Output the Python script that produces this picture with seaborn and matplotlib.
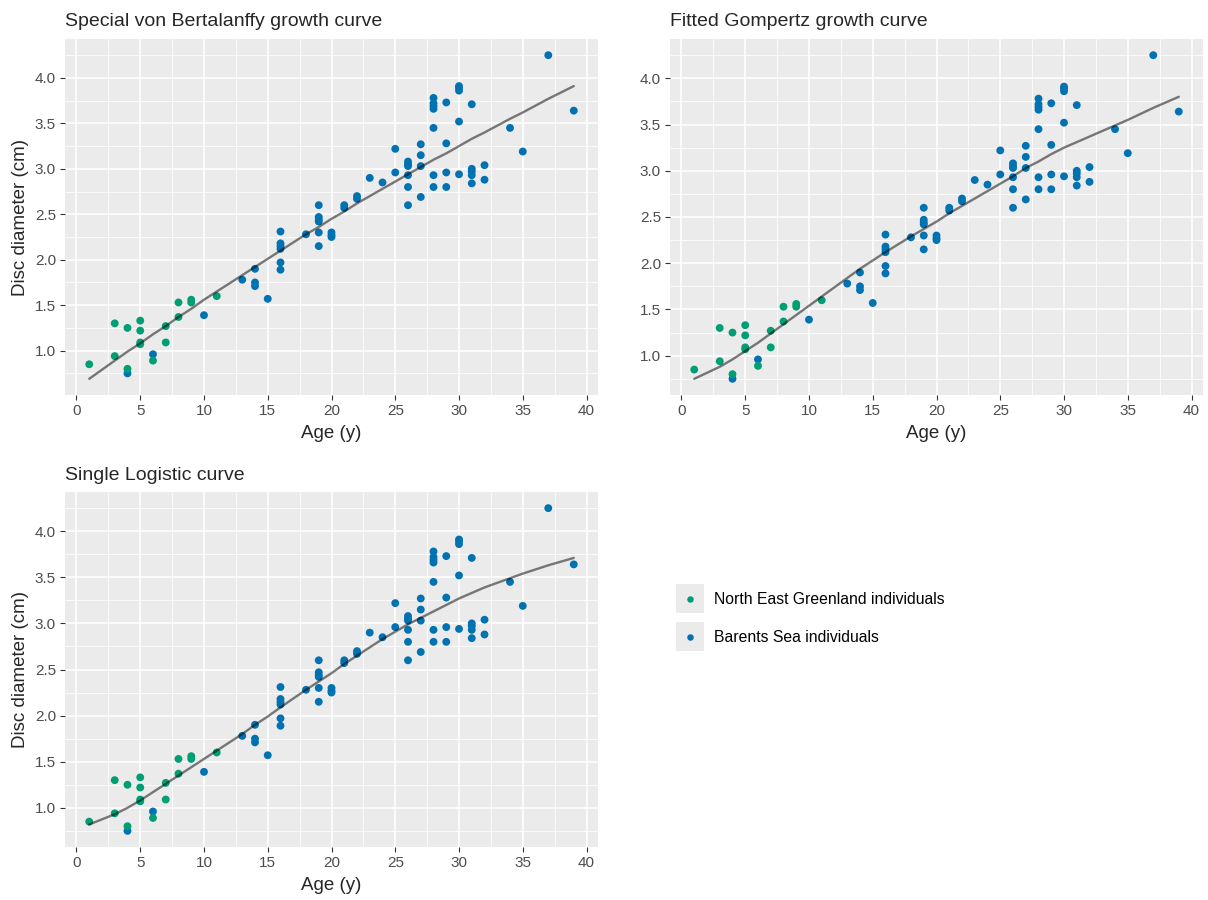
import pandas as pd
import seaborn as sns
import matplotlib.pyplot as plt
from matplotlib.patches import Rectangle
from matplotlib.ticker import MultipleLocator

# Pontos observados - North East Greenland
greenland_age = [1, 3, 3, 4, 4, 5, 5, 5, 5, 6, 7, 7, 8, 8, 9, 9, 11]
greenland_disc = [0.85, 1.30, 0.94, 1.25, 0.80, 1.33, 1.22, 1.09, 1.07, 0.89,
                  1.27, 1.09, 1.53, 1.37, 1.56, 1.53, 1.60]

# Pontos observados - Barents Sea
barents_age = [4, 6, 10, 13, 14, 14, 14, 15, 16, 16, 16, 16, 16, 16, 18,
               19, 19, 19, 19, 19, 19, 20, 20, 20, 21, 21, 22, 22, 23, 24,
               25, 25, 26, 26, 26, 26, 26, 26, 27, 27, 27, 27,
               28, 28, 28, 28, 28, 28, 28, 29, 29, 29, 29,
               30, 30, 30, 30, 30, 31, 31, 31, 31, 31, 32, 32, 34, 35, 37, 39]
barents_disc = [0.75, 0.96, 1.39, 1.78, 1.90, 1.75, 1.71, 1.57, 2.31, 2.18, 2.15, 2.12, 1.97, 1.89, 2.28,
                2.60, 2.47, 2.44, 2.42, 2.30, 2.15, 2.30, 2.27, 2.25, 2.60, 2.57, 2.70, 2.67, 2.90, 2.85,
                3.22, 2.96, 3.08, 3.05, 3.03, 2.93, 2.80, 2.60, 3.27, 3.15, 3.03, 2.69,
                3.78, 3.72, 3.69, 3.66, 3.45, 2.93, 2.80, 3.73, 3.28, 2.96, 2.80,
                3.91, 3.89, 3.86, 3.52, 2.94, 3.71, 3.00, 2.97, 2.93, 2.84, 3.04, 2.88, 3.45, 3.19, 4.25, 3.64]

curve_age = [1, 3, 4, 5, 6, 7, 8, 9, 10, 11, 13, 14, 15, 16, 18, 19, 20,
             21, 22, 23, 24, 25, 26, 27, 28, 29, 30, 31, 32, 34, 35, 37, 39]
vb_fit = [0.69, 0.89, 0.99, 1.08, 1.18, 1.27, 1.37, 1.46, 1.56, 1.65, 1.83, 1.92, 2.01, 2.10, 2.28, 2.36, 2.45,
          2.53, 2.62, 2.70, 2.78, 2.86, 2.94, 3.02, 3.10, 3.17, 3.25, 3.33, 3.40, 3.55, 3.62, 3.77, 3.91]
gompertz_fit = [0.75, 0.88, 0.96, 1.05, 1.14, 1.24, 1.34, 1.44, 1.54, 1.64, 1.84, 1.94, 2.03, 2.12, 2.29, 2.37, 2.45,
                2.54, 2.62, 2.70, 2.78, 2.86, 2.94, 3.03, 3.10, 3.18, 3.25, 3.31, 3.37, 3.49, 3.55, 3.68, 3.80]
logistic_fit = [0.82, 0.93, 1.00, 1.08, 1.17, 1.26, 1.35, 1.44, 1.53, 1.62, 1.80, 1.90, 1.99, 2.09, 2.28, 2.37, 2.46,
                2.56, 2.65, 2.74, 2.83, 2.91, 2.99, 3.06, 3.13, 3.20, 3.27, 3.33, 3.39, 3.49, 3.54, 3.63, 3.71]

panel_titles = ['Special von Bertalanffy growth curve',
                'Fitted Gompertz growth curve',
                'Single Logistic curve']
legend_labels = ['North East Greenland individuals', 'Barents Sea individuals']
group_colors = ['#009E73', '#0072B2']

W, H = 1208, 900


def px_box(left, top, right, bottom):
    # converte uma caixa em pixels para coordenadas da figura
    return [left / W, 1 - bottom / H, (right - left) / W, (bottom - top) / H]


def draw_panel(ax, df, fit, title, show_ylabel=True):
    fit_df = pd.DataFrame({'age': curve_age, 'fit': fit})

    # Barents primeiro, Groenlandia por cima (como no original)
    sns.scatterplot(data=df, x='age', y='disc', hue='group',
                    hue_order=legend_labels[::-1],
                    palette=dict(zip(legend_labels, group_colors)),
                    s=32, linewidth=0, legend=False, ax=ax, zorder=3)
    sns.lineplot(data=fit_df, x='age', y='fit', color='black', alpha=0.5,
                 linewidth=1.7, ax=ax, zorder=4)

    lo = min(df['disc'].min(), min(fit))
    hi = max(df['disc'].max(), max(fit))
    pad = (hi - lo) * 0.05
    ax.set_ylim(lo - pad, hi + pad)
    ax.set_xlim(1 - 1.9, 39 + 1.9)

    ax.xaxis.set_major_locator(MultipleLocator(5))
    ax.xaxis.set_minor_locator(MultipleLocator(2.5))
    ax.yaxis.set_major_locator(MultipleLocator(0.5))
    ax.yaxis.set_minor_locator(MultipleLocator(0.25))
    ax.yaxis.set_major_formatter(lambda v, p: f'{v:.1f}')
    ax.grid(which='major', color='white', linewidth=1.1)
    ax.grid(which='minor', color='white', linewidth=0.55)
    ax.tick_params(which='major', length=3.5, width=0.8, color='#333333',
                   labelsize=11, labelcolor='#4D4D4D', pad=3, bottom=True, left=True)
    ax.tick_params(which='minor', length=0)
    for s in ax.spines.values():
        s.set_visible(False)

    ax.set_title(title, loc='left', fontsize=14, pad=9)
    ax.set_xlabel('Age (y)', fontsize=13.5, labelpad=5)
    ax.set_ylabel('Disc diameter (cm)' if show_ylabel else '', fontsize=13.5, labelpad=4)


def plot_growth_curves():
    sns.set_theme(style='darkgrid', rc={'axes.facecolor': '#EBEBEB',
                                        'figure.facecolor': 'white'})
    plt.rcParams['font.family'] = ['Liberation Sans', 'DejaVu Sans']

    df = pd.DataFrame({
        'age': greenland_age + barents_age,
        'disc': greenland_disc + barents_disc,
        'group': [legend_labels[0]] * len(greenland_age) + [legend_labels[1]] * len(barents_age),
    })
    # ordem de desenho: Barents atras
    df = df.iloc[::-1].reset_index(drop=True)

    fig = plt.figure(figsize=(W / 100, H / 100), dpi=100)

    ax1 = fig.add_axes(px_box(65, 39, 598, 395))
    ax2 = fig.add_axes(px_box(670, 39, 1203, 395))
    ax3 = fig.add_axes(px_box(65, 492, 598, 847))

    draw_panel(ax1, df, vb_fit, panel_titles[0])
    draw_panel(ax2, df, gompertz_fit, panel_titles[1], show_ylabel=False)
    draw_panel(ax3, df, logistic_fit, panel_titles[2])

    # Legenda no estilo ggplot (caixas cinza com ponto)
    leg = fig.add_axes(px_box(670, 575, 1000, 660))
    leg.set_xlim(670, 1000)
    leg.set_ylim(660, 575)
    leg.axis('off')
    for i, (label, color) in enumerate(zip(legend_labels, group_colors)):
        y0 = 584 + i * 38
        leg.add_patch(Rectangle((676, y0), 28, 29, color='#EBEBEB', lw=0))
        leg.scatter([690], [y0 + 15], s=22, color=color, linewidth=0)
        leg.text(714, y0 + 16, label, fontsize=11.3, va='center', ha='left', color='black')

    plt.savefig('out.png', dpi=100)


if __name__ == "__main__":
    plot_growth_curves()
